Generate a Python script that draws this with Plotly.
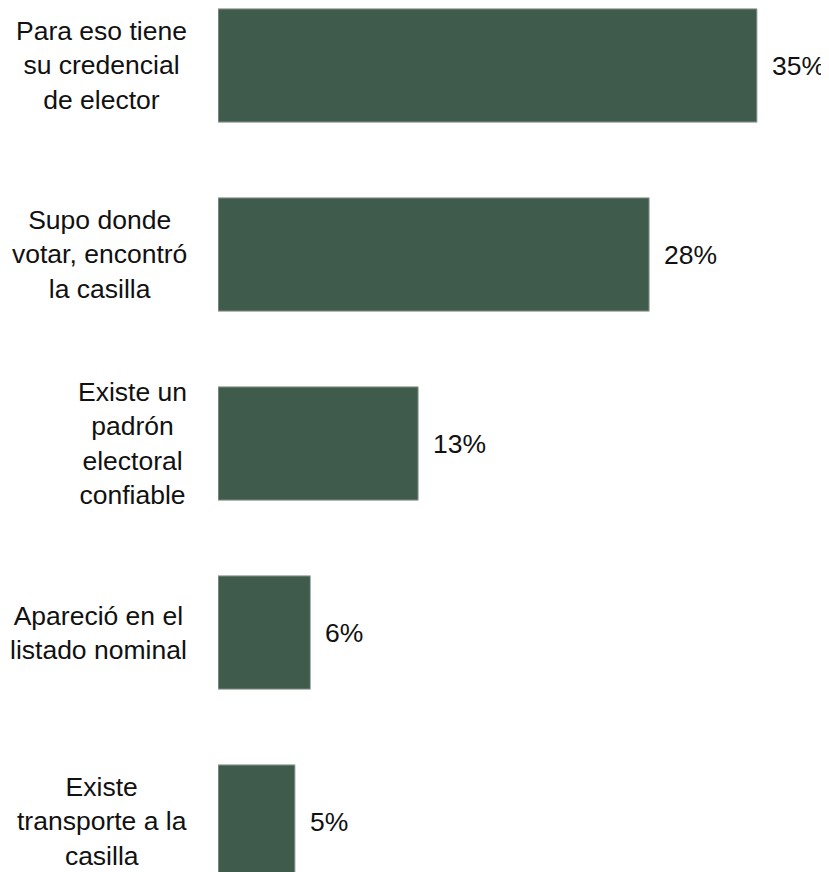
import plotly.graph_objects as go

categories = [
    "Para eso tiene<br>su credencial<br>de elector",
    "Supo donde<br>votar, encontró<br>la casilla",
    "Existe un<br>padrón<br>electoral<br>confiable",
    "Apareció en el<br>listado nominal",
    "Existe<br>transporte a la<br>casilla",
]
values = [35, 28, 13, 6, 5]
value_labels = ["35%", "28%", "13%", "6%", "5%"]

FONT = "Liberation Sans, Arial, sans-serif"
BAR = "#3f5b4c"

fig = go.Figure()
fig.add_trace(go.Bar(
    x=values, y=list(range(len(categories))), orientation="h",
    width=0.6,
    marker=dict(color=BAR, line=dict(color="#a9b0ac", width=1)),
    hoverinfo="skip",
))

annotations = []
for i, (c, v, t) in enumerate(zip(categories, values, value_labels)):
    annotations.append(dict(
        x=-0.047, xref="paper", y=i, yref="y", text=c, showarrow=False,
        xanchor="right", yanchor="middle", align="center",
        font=dict(family=FONT, size=26.5, color="#111111"),
    ))
    annotations.append(dict(
        x=v, xref="x", y=i, yref="y", text=t, showarrow=False,
        xanchor="left", yanchor="middle", xshift=13,
        font=dict(family=FONT, size=26.5, color="#111111"),
    ))

fig.update_layout(
    width=821, height=864,
    margin=dict(l=210, r=0, t=0, b=0),
    paper_bgcolor="white", plot_bgcolor="white",
    showlegend=False,
    xaxis=dict(range=[0, 611 / 15.4], visible=False, fixedrange=True),
    yaxis=dict(range=[4.267, -0.3042], visible=False, fixedrange=True),
    annotations=annotations,
)

fig.write_html("out.html", config={"displayModeBar": False})
